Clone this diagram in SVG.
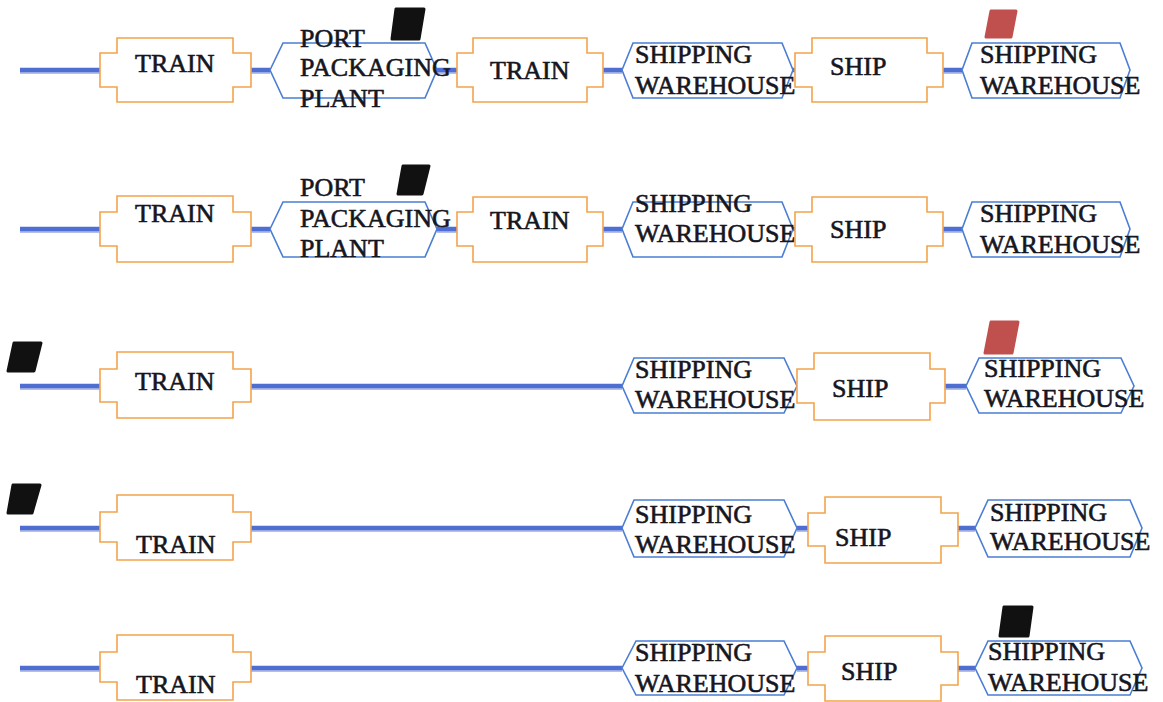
<svg xmlns="http://www.w3.org/2000/svg" width="1163" height="702" viewBox="0 0 1163 702">
  <style>
    .box { fill: #fff; stroke: #f4a44c; stroke-width: 1.6; }
    .hex { fill: #fff; stroke: #4a7dd4; stroke-width: 1.6; }
    .lbl { font-family: "Liberation Serif", "Times New Roman", serif; font-size: 26px; fill: #16161f; stroke: #16161f; stroke-width: 0.6; }
    .wire { stroke: #4f6ed2; stroke-width: 4.5; fill: none; }
    .wire-sh { stroke: #b4bee8; stroke-width: 3; fill: none; }
    .tok { stroke-width: 3; stroke-linejoin: round; }
    .tok-black { fill: #111; stroke: #111; }
    .tok-red { fill: #c0504d; stroke: #c0504d; }
  </style>

  <!-- connectors -->
  <g id="connectors">
    <g transform="translate(0,2.5)">
      <path class="wire-sh" d="M20,70H100M251,70H270M437,70H457M603,70H622M943,70H962"/>
      <path class="wire-sh" d="M20,229H100M251,229H270M437,229H457M603,229H622M943,229H962"/>
      <path class="wire-sh" d="M20,386H100M251,386H622M945,386H966"/>
      <path class="wire-sh" d="M20,528H100M251,528H622M797,528H808M958,528H975"/>
      <path class="wire-sh" d="M20,668H100M251,668H622M797,668H808M958,668H975"/>
    </g>
    <path class="wire" d="M20,70H100M251,70H270M437,70H457M603,70H622M793,70H795M943,70H962"/>
    <path class="wire" d="M20,229H100M251,229H270M437,229H457M603,229H622M793,229H795M943,229H962"/>
    <path class="wire" d="M20,386H100M251,386H622M945,386H966"/>
    <path class="wire" d="M20,528H100M251,528H622M797,528H808M958,528H975"/>
    <path class="wire" d="M20,668H100M251,668H622M797,668H808M958,668H975"/>
  </g>

  <!-- row 1 -->
  <g id="r1-train-a">
    <path class="box" d="M117,38H233V53H251V87H233V102H117V87H100V53H117Z"/>
    <text class="lbl" x="135" y="72">TRAIN</text>
  </g>
  <g id="r1-port-plant">
    <polygon class="hex" points="270,70 283,43 425,43 437,70 425,98 283,98"/>
    <text class="lbl" x="300" y="47">PORT</text>
    <text class="lbl" x="300" y="76">PACKAGING</text>
    <text class="lbl" x="300" y="107">PLANT</text>
  </g>
  <g id="r1-train-b">
    <path class="box" d="M473,38H587V53H603V87H587V102H473V87H457V53H473Z"/>
    <text class="lbl" x="490" y="79">TRAIN</text>
  </g>
  <g id="r1-warehouse-a">
    <polygon class="hex" points="622,70 633,43 782,43 793,70 782,98 633,98"/>
    <text class="lbl" x="635" y="63">SHIPPING</text>
    <text class="lbl" x="635" y="94">WAREHOUSE</text>
  </g>
  <g id="r1-ship">
    <path class="box" d="M812,38H927V53H943V87H927V102H812V87H795V53H812Z"/>
    <text class="lbl" x="830" y="75">SHIP</text>
  </g>
  <g id="r1-warehouse-b">
    <polygon class="hex" points="962,70 972,43 1120,43 1130,70 1120,98 972,98"/>
    <text class="lbl" x="980" y="63">SHIPPING</text>
    <text class="lbl" x="980" y="94">WAREHOUSE</text>
  </g>

  <!-- row 2 -->
  <g id="r2-train-a">
    <path class="box" d="M117,196H233V212H251V246H233V262H117V246H100V212H117Z"/>
    <text class="lbl" x="135" y="222">TRAIN</text>
  </g>
  <g id="r2-port-plant">
    <polygon class="hex" points="270,229 283,202 425,202 437,229 425,257 283,257"/>
    <text class="lbl" x="300" y="196">PORT</text>
    <text class="lbl" x="300" y="227">PACKAGING</text>
    <text class="lbl" x="300" y="257">PLANT</text>
  </g>
  <g id="r2-train-b">
    <path class="box" d="M473,197H587V212H603V246H587V262H473V246H457V212H473Z"/>
    <text class="lbl" x="490" y="229">TRAIN</text>
  </g>
  <g id="r2-warehouse-a">
    <polygon class="hex" points="622,229 633,202 782,202 793,229 782,257 633,257"/>
    <text class="lbl" x="635" y="212">SHIPPING</text>
    <text class="lbl" x="635" y="242">WAREHOUSE</text>
  </g>
  <g id="r2-ship">
    <path class="box" d="M812,197H927V212H943V246H927V262H812V246H795V212H812Z"/>
    <text class="lbl" x="830" y="238">SHIP</text>
  </g>
  <g id="r2-warehouse-b">
    <polygon class="hex" points="962,229 972,202 1120,202 1130,229 1120,257 972,257"/>
    <text class="lbl" x="980" y="222">SHIPPING</text>
    <text class="lbl" x="980" y="253">WAREHOUSE</text>
  </g>

  <!-- row 3 -->
  <g id="r3-train">
    <path class="box" d="M117,352H233V369H251V402H233V418H117V402H100V369H117Z"/>
    <text class="lbl" x="135" y="390">TRAIN</text>
  </g>
  <g id="r3-warehouse-a">
    <polygon class="hex" points="622,386 634,358 784,358 797,386 784,413 634,413"/>
    <text class="lbl" x="635" y="378">SHIPPING</text>
    <text class="lbl" x="635" y="408">WAREHOUSE</text>
  </g>
  <g id="r3-ship">
    <path class="box" d="M814,353H930V369H945V403H930V420H814V403H797V369H814Z"/>
    <text class="lbl" x="832" y="397">SHIP</text>
  </g>
  <g id="r3-warehouse-b">
    <polygon class="hex" points="966,386 979,358 1121,358 1134,386 1121,413 979,413"/>
    <text class="lbl" x="984" y="377">SHIPPING</text>
    <text class="lbl" x="984" y="407">WAREHOUSE</text>
  </g>

  <!-- row 4 -->
  <g id="r4-train">
    <path class="box" d="M117,495H233V512H251V542H233V560H117V542H100V512H117Z"/>
    <text class="lbl" x="136" y="553">TRAIN</text>
  </g>
  <g id="r4-warehouse-a">
    <polygon class="hex" points="622,528 634,500 784,500 797,528 784,557 634,557"/>
    <text class="lbl" x="635" y="523">SHIPPING</text>
    <text class="lbl" x="635" y="553">WAREHOUSE</text>
  </g>
  <g id="r4-ship">
    <path class="box" d="M825,497H941V513H958V546H941V563H825V546H808V513H825Z"/>
    <text class="lbl" x="835" y="546">SHIP</text>
  </g>
  <g id="r4-warehouse-b">
    <polygon class="hex" points="975,528 988,500 1130,500 1142,528 1130,557 988,557"/>
    <text class="lbl" x="990" y="521">SHIPPING</text>
    <text class="lbl" x="990" y="550">WAREHOUSE</text>
  </g>

  <!-- row 5 -->
  <g id="r5-train">
    <path class="box" d="M117,635H233V652H251V682H233V700H117V682H100V652H117Z"/>
    <text class="lbl" x="136" y="693">TRAIN</text>
  </g>
  <g id="r5-warehouse-a">
    <polygon class="hex" points="622,668 636,641 784,641 797,668 784,695 636,695"/>
    <text class="lbl" x="635" y="661">SHIPPING</text>
    <text class="lbl" x="635" y="692">WAREHOUSE</text>
  </g>
  <g id="r5-ship">
    <path class="box" d="M825,636H941V652H958V685H941V701H825V685H808V652H825Z"/>
    <text class="lbl" x="841" y="680">SHIP</text>
  </g>
  <g id="r5-warehouse-b">
    <polygon class="hex" points="975,668 988,641 1130,641 1142,668 1130,695 988,695"/>
    <text class="lbl" x="988" y="660">SHIPPING</text>
    <text class="lbl" x="988" y="691">WAREHOUSE</text>
  </g>

  <!-- cargo tokens -->
  <g id="tokens">
    <polygon class="tok tok-black" points="396,9 424,9 419,39 392,39"/>
    <polygon class="tok tok-red" points="991,11 1016,11 1011,37 986,37"/>
    <polygon class="tok tok-black" points="403,166 429,166 422,194 398,194"/>
    <polygon class="tok tok-black" points="14,343 41,343 34,371 8,371"/>
    <polygon class="tok tok-red" points="991,322 1018,322 1012,353 985,353"/>
    <polygon class="tok tok-black" points="13,485 40,485 32,513 8,513"/>
    <polygon class="tok tok-black" points="1004,607 1032,607 1028,636 1000,636"/>
  </g>
</svg>
